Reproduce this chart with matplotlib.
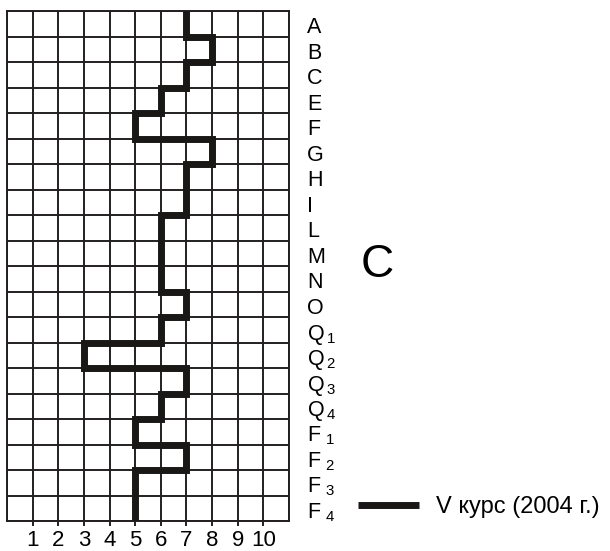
import numpy as np
import matplotlib.pyplot as plt

plt.rcParams['font.family'] = ['Liberation Sans', 'DejaVu Sans']
plt.rcParams['mathtext.fontset'] = 'custom'
plt.rcParams['mathtext.rm'] = 'Liberation Sans'
plt.rcParams['mathtext.it'] = 'Liberation Sans'
plt.rcParams['mathtext.default'] = 'rm'

factors = ['A', 'B', 'C', 'E', 'F', 'G', 'H', 'I', 'L', 'M', 'N', 'O',
           r'Q$\,_1$', r'Q$\,_2$', r'Q$\,_3$', r'Q$\,_4$',
           r'F$\;_1$', r'F$\;_2$', r'F$\;_3$', r'F$\;_4$']
scores = [7, 8, 7, 6, 5, 8, 7, 7, 6, 6, 6, 7, 6, 3, 7, 6, 5, 7, 5, 5]
x_labels = ['1', '2', '3', '4', '5', '6', '7', '8', '9', '10']
series_name = 'V курс (2004 г.)'

fig = plt.figure(figsize=(6.1, 5.51), dpi=100)
ax = fig.add_axes([7/610, 30/551, 282/610, 510/551])

rows = np.arange(len(scores))
# each factor is a vertical segment across its row, joined by horizontal steps
xs = np.repeat(scores, 2)
ys = np.column_stack([rows, rows + 1]).ravel()
ax.plot(xs, ys, color='#1a1717', lw=5, solid_joinstyle='miter', solid_capstyle='butt',
        label=series_name, zorder=3)

ax.set_xlim(0, 11)
ax.set_ylim(len(scores), 0)
ax.set_xticks(np.arange(0, 12))
ax.set_yticks(np.arange(0, len(scores) + 1))
ax.grid(True, color='#231f20', lw=1.4)
ax.set_xticklabels([])
ax.set_yticklabels([])
ax.tick_params(axis='both', which='major', length=0)

# minor ticks sit on the grid lines, so keep them
ax.xaxis.remove_overlapping_locs = False
ax.set_xticks(np.arange(1, 11), minor=True)
ax.set_xticklabels(x_labels, minor=True, fontsize=16)
ax.tick_params(axis='x', which='minor', length=3.5, width=1.4, color='#231f20', pad=3, direction='out')

ax.set_yticks(rows + 0.55, minor=True)
ax.set_yticklabels(factors, minor=True, fontsize=15.5)
ax.yaxis.tick_right()
ax.tick_params(axis='y', which='minor', length=0, pad=13, right=True, left=False,
               labelright=True, labelleft=False)

for s in ax.spines.values():
    s.set_color('#231f20')
    s.set_linewidth(1.4)

fig.text(377/610, 1 - 265/551, 'C', fontsize=33, ha='center', va='center')

fig.legend(loc='center left', bbox_to_anchor=(358/610, 1 - 507/551), frameon=False,
           fontsize=17, handlelength=2.6, handletextpad=0.7, borderpad=0, borderaxespad=0)

fig.savefig('out.png', dpi=100)
